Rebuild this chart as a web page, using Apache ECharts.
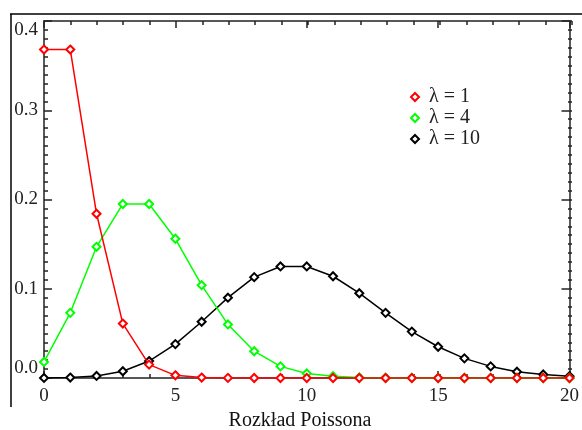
<!DOCTYPE html>
<html><head><meta charset="utf-8">
<script src="https://cdn.jsdelivr.net/npm/echarts@6/dist/echarts.min.js"></script>
<style>html,body{margin:0;padding:0;background:#fff}#c{width:582px;height:430px}</style>
</head><body><div id="c"></div>
<script>
var ks = [0,1,2,3,4,5,6,7,8,9,10,11,12,13,14,15,16,17,18,19,20];
var lambda1 = [0.368,0.368,0.184,0.061,0.015,0.003,0.0005,0.0001,0,0,0,0,0,0,0,0,0,0,0,0,0];
var lambda4 = [0.018,0.073,0.147,0.195,0.195,0.156,0.104,0.060,0.030,0.013,0.005,0.002,0.0006,0.0002,0.0001,0,0,0,0,0,0];
var lambda10 = [0.00005,0.0005,0.0023,0.0076,0.019,0.038,0.063,0.090,0.113,0.125,0.125,0.114,0.095,0.073,0.052,0.035,0.022,0.013,0.007,0.004,0.002];
var seriesNames = ['\u03bb = 1','\u03bb = 4','\u03bb = 10'];
var colors = ['#ff0000','#00ff00','#000000'];
var xTicks = [0,5,10,15,20];
var yTicks = [0.0,0.1,0.2,0.3,0.4];

var font = 'Liberation Serif';
function pairs(v){ return ks.map(function(k,i){ return [k, v[i]]; }); }
var datasets = [lambda1, lambda4, lambda10];
var zs = [4,3,2];
var chart = echarts.init(document.getElementById('c'), null, {renderer:'canvas'});
var tickStyle = {color:'#222', width:1.5};
function xAx(grid, pos, interval, len, labels, line){
  return {type:'value', gridIndex:grid, position:pos, min:xTicks[0], max:xTicks[xTicks.length-1], interval:interval,
    axisLine:{show:line, onZero:false, lineStyle:{color:'#222', width:1.5}}, splitLine:{show:false},
    axisTick:{show:true, inside:true, length:len, lineStyle:tickStyle},
    axisLabel: labels ? {show:true, fontFamily:font, fontSize:19, color:'#222', margin:9} : {show:false}};
}
function yAx(grid, pos, interval, len, labels, line){
  return {type:'value', gridIndex:grid, position:pos, min:yTicks[0], max:yTicks[yTicks.length-1], interval:interval,
    axisLine:{show:line, onZero:false, lineStyle:{color:'#222', width:1.5}}, splitLine:{show:false},
    axisTick:{show:true, inside:true, length:len, lineStyle:tickStyle},
    axisLabel: labels ? {show:true, fontFamily:font, fontSize:19, color:'#222', margin:6,
      verticalAlignMaxLabel:'top', verticalAlignMinLabel:'bottom',
      formatter:function(v){ return v.toFixed(1); }} : {show:false}};
}
var gridRect = {left:44, right:10, top:21, bottom:52, containLabel:false};
chart.setOption({
  animation:false,
  backgroundColor:'#fff',
  grid:[ Object.assign({}, gridRect), Object.assign({}, gridRect) ],
  xAxis:[ xAx(0,'bottom',5,7,true,true), xAx(0,'top',5,7,false,true),
          xAx(1,'bottom',1,4,false,false), xAx(1,'top',1,4,false,false) ],
  yAxis:[ yAx(0,'left',0.1,8,true,true), yAx(0,'right',0.1,8,false,true),
          yAx(1,'left',0.01,4,false,false), yAx(1,'right',0.01,4,false,false) ],
  legend:{orient:'vertical', left:405, top:82, itemGap:1, itemWidth:8, itemHeight:8,
    textStyle:{fontFamily:font, fontSize:20, color:'#222', padding:[0,0,0,5]},
    data: seriesNames.map(function(n,i){ return {name:n, icon:'diamond',
      itemStyle:{color:'#fff', borderColor:colors[i], borderWidth:2}}; })},
  graphic:[
    {type:'line', shape:{x1:10, y1:14, x2:582, y2:14}, style:{stroke:'#000', lineWidth:1.5}},
    {type:'line', shape:{x1:11, y1:14, x2:11, y2:407}, style:{stroke:'#000', lineWidth:1.5}},
    {type:'text', x:300, y:411, style:{text:'Rozk\u0142ad Poissona', font:'20px "Liberation Serif"', fill:'#111', textAlign:'center'}}
  ],
  series: datasets.map(function(d,i){ return {
    name:seriesNames[i], type:'line', data:pairs(d), z:zs[i], xAxisIndex:0, yAxisIndex:0,
    symbol:'emptyDiamond', symbolSize:8, showAllSymbol:true,
    lineStyle:{color:colors[i], width:1.5},
    itemStyle:{color:colors[i], borderColor:colors[i], borderWidth:1.5}
  }; })
});
</script></body></html>
